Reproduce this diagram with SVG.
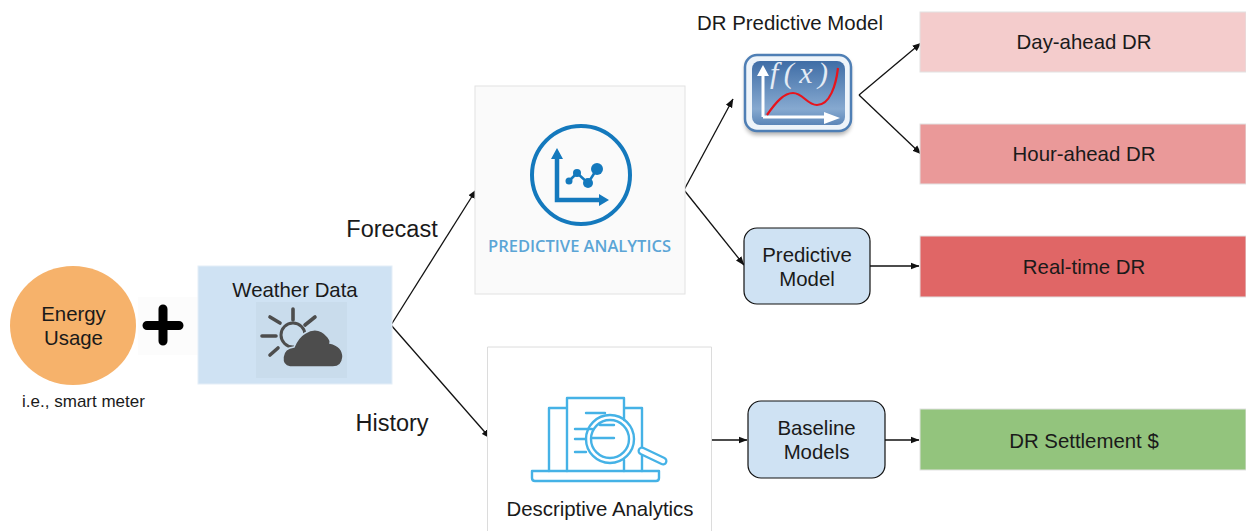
<svg xmlns="http://www.w3.org/2000/svg" width="1246" height="531" viewBox="0 0 1246 531">
<defs>
<marker id="ah" markerUnits="userSpaceOnUse" markerWidth="9" markerHeight="8" refX="8.5" refY="4" orient="auto"><path d="M0 0.5L9 4L0 7.5z" fill="#111"/></marker>
<linearGradient id="fx" x1="0" y1="0" x2="0" y2="1"><stop offset="0" stop-color="#3f6da6"/><stop offset="0.75" stop-color="#86a9d0"/><stop offset="1" stop-color="#5c86b8"/></linearGradient>
<filter id="blur" x="-20%" y="-20%" width="140%" height="160%"><feGaussianBlur stdDeviation="2"/></filter>
</defs>
<style>
text{font-family:"Liberation Sans",Arial,sans-serif;fill:#1a1a1a;text-anchor:middle}
.t{font-size:20.400px}
.l{font-size:23.500px}
.box{stroke:#e2e2e2;stroke-width:1}
.model{fill:#cfe2f3;stroke:#111;stroke-width:1.2}
.c{fill:none;stroke:#111;stroke-width:1.3;marker-end:url(#ah)}
.pa{fill:none;stroke:#1479bd;stroke-width:4}
.da{fill:none;stroke:#45b2e6;stroke-width:2.4;stroke-linejoin:round;stroke-linecap:round}
.sun{stroke:#4d4d4d;stroke-width:3.6;stroke-linecap:round;fill:none}
</style>

<g id="connectors">
<path class="c" d="M391 325L476 190"/>
<path class="c" d="M391 325L490 438"/>
<path class="c" d="M684 190L733 99"/>
<path class="c" d="M684 190L744 265"/>
<path class="c" d="M859 95L921 43"/>
<path class="c" d="M859 95L921 154"/>
<path class="c" d="M870 266L919 266"/>
<path class="c" d="M712 440L747 440"/>
<path class="c" d="M885 440L919 440"/>
</g>

<g id="energy-usage">
<ellipse cx="73" cy="325.500" rx="63" ry="59.500" fill="#f6b26b"/>
<text class="t" x="73.500" y="321">Energy</text>
<text class="t" x="73.500" y="345">Usage</text>
<text x="83.500" y="407" font-size="17">i.e., smart meter</text>
</g>

<g id="plus">
<rect x="138" y="297" width="60" height="58" fill="#fcfcfc"/>
<path d="M147 325.500H179M163 309V341" stroke="#000" stroke-width="9" stroke-linecap="round" fill="none"/>
</g>

<g id="weather-data">
<rect x="198" y="266" width="194" height="118" fill="#cfe2f3" stroke="#e4eef7"/>
<text class="t" x="295" y="297">Weather Data</text>
<rect x="256" y="302" width="91" height="76" fill="#c9dcec"/>
<path class="sun" d="M293 309V320M270 317L280 323M315 317L305 325M262 336H276M270 355L278 348"/>
<circle cx="293" cy="335" r="12" fill="none" stroke="#4d4d4d" stroke-width="3"/>
<path d="M290 367Q282 366 283 357Q284 348 294 347Q298 337 305 333Q318 325 328 337Q331 341 330 343Q343 346 343 357Q342 367 333 367z" fill="#4d4d4d" stroke="#c9dcec" stroke-width="1.500"/>
</g>

<text class="l" x="392" y="237">Forecast</text>
<text class="l" x="392" y="431">History</text>

<g id="predictive-analytics">
<rect class="box" x="475" y="86" width="210" height="208" fill="#fafafa"/>
<circle cx="581" cy="175" r="49" fill="#fff" class="pa"/>
<path d="M557 153V200H604" fill="none" stroke="#1479bd" stroke-width="4.500"/>
<path d="M557 148L551 159H563zM609 200L599 194V206z" fill="#1479bd"/>
<path d="M569 181L577 173L588 183L597 169" fill="none" stroke="#1479bd" stroke-width="2.500"/>
<circle cx="569" cy="181" r="3.500" fill="#1479bd"/>
<circle cx="577" cy="173" r="4" fill="#1479bd"/>
<circle cx="588" cy="183" r="5" fill="#1479bd"/>
<circle cx="597" cy="169" r="6" fill="#1479bd"/>
<text x="579.500" y="252" font-size="17" font-weight="600" style="font-family:'Open Sans','Liberation Sans',sans-serif;fill:#5ba5d6" textLength="183" lengthAdjust="spacingAndGlyphs">PREDICTIVE ANALYTICS</text>
</g>

<g id="dr-predictive-model">
<text class="t" x="790" y="30">DR Predictive Model</text>
<rect x="745" y="57" width="106" height="78" rx="12" fill="#000" opacity="0.3" filter="url(#blur)"/>
<rect x="745" y="55" width="106" height="76" rx="12" fill="#eef4fa" stroke="#4f7fb5" stroke-width="2.500"/>
<rect x="752" y="61" width="93" height="64" rx="8" fill="url(#fx)"/>
<path d="M763 117V72M763 117H832" fill="none" stroke="#fff" stroke-width="3"/>
<path d="M763 65L757 76H769zM840 118L824 112V124z" fill="#fff"/>
<text x="799" y="83" font-size="30" font-style="italic" textLength="58" style="font-family:'Liberation Serif',serif;fill:#e4ebf4">f(x)</text>
<path d="M767 115C776 102 784 93 793 93C803 93 807 105 817 105C830 105 836 85 838 68" fill="none" stroke="#e8141c" stroke-width="2.200"/>
</g>

<g id="day-ahead-dr">
<rect class="box" x="920" y="12" width="326" height="60" fill="#f4cccc"/>
<text class="t" x="1084" y="49">Day-ahead DR</text>
</g>
<g id="hour-ahead-dr">
<rect class="box" x="920" y="124" width="326" height="60" fill="#ea9999"/>
<text class="t" x="1084" y="161">Hour-ahead DR</text>
</g>
<g id="real-time-dr">
<rect class="box" x="920" y="236" width="326" height="61" fill="#e06666"/>
<text class="t" x="1084" y="274">Real-time DR</text>
</g>
<g id="dr-settlement">
<rect class="box" x="920" y="409" width="326" height="61" fill="#93c47d"/>
<text class="t" x="1084" y="448">DR Settlement $</text>
</g>

<g id="predictive-model">
<rect class="model" x="744" y="228" width="126" height="76" rx="13"/>
<text class="t" x="807" y="262">Predictive</text>
<text class="t" x="807" y="286">Model</text>
</g>
<g id="baseline-models">
<rect class="model" x="748" y="401" width="137" height="77" rx="13"/>
<text class="t" x="816.500" y="435">Baseline</text>
<text class="t" x="816.500" y="459">Models</text>
</g>

<g id="descriptive-analytics">
<path d="M487.500 531V347H711.500V531" fill="#fff" stroke="#dcdcdc"/>
<path class="da" d="M549 471V408H567M567 471V398H624V420M624 460V471M624 408H642V471"/>
<path class="da" d="M532 471H659V478Q659 481 656 481H535Q532 481 532 478z"/>
<path class="da" d="M586 413H605M575 429H592M575 439H586M575 452H586"/>
<path d="M642 451L663 461" stroke="#45b2e6" stroke-width="9" stroke-linecap="round" fill="none"/>
<path d="M642 451L663 461" stroke="#fff" stroke-width="4.500" stroke-linecap="round" fill="none"/>
<circle cx="610" cy="439" r="24" fill="#fff" class="da"/>
<circle cx="610" cy="439" r="19" fill="none" class="da"/>
<path class="da" d="M592 438H614M600 425H614"/>
<text class="t" x="600" y="516">Descriptive Analytics</text>
</g>
</svg>
